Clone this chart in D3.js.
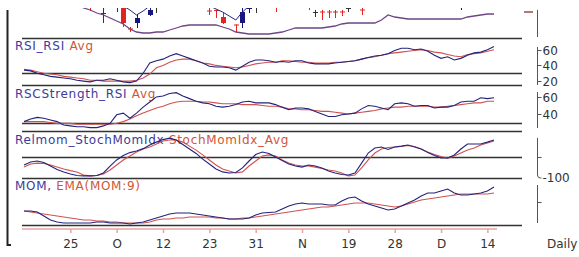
<!DOCTYPE html>
<html>
<head>
<meta charset="utf-8">
<script src="https://cdn.jsdelivr.net/npm/d3@7"></script>
<style>
  html, body { margin: 0; padding: 0; background: #fff; }
  svg { display: block; font-family: "DejaVu Sans", Verdana, sans-serif; }
</style>
</head>
<body>
<div id="chart"></div>
<script>
// Stacked indicator panels: price strip, RSI, RSC strength, SMI, momentum

// x axis (one slot per trading day)
const tickIdx = [7, 14, 21, 28, 35, 42, 49, 56, 63, 70];
const tickLabels = ['25', 'O', '12', '23', '31', 'N', '19', '28', 'D', '14'];

// price strip (top is cut off in the picture)
const priceMA = [148,146,144,142,141,140,138,136,133,130, 128,125,123,120,117,114,109,106,105,105,
  106,106,108,110,112,113,113,113,113,113, 111,109,106,105,104,104,104,104,105,106,
  108,110,110,110,110,110,111,112,114,115, 115,115,115,115,118,123,121,120,119,119,
  119,119,119,119,119,119,119,121,122,123, 124,124];
const priceUpper = [140,140,140,140,140,140,140,140,140,140, 140,140,140,140,140,132,128,123,127,132,
  140,140,140,140,140,140,140,140,132,129, 126,122,118,126,132,140,140,140,140,140,
  140,140,140,140,140,140,140,140,140,140, 140,140,140,140,140,140,140,140,140,140,
  140,140,140,140,140,140,140,140,140,140, 140,140];
const candleIdx   = [10, 12, 14, 15, 16, 17, 19, 20, 28, 29, 30, 32, 33, 34, 35, 38, 43, 44, 45, 46, 47, 48, 49, 51, 66];
const candleOpen  = [139,125,138,131,109.5,115,123,135,127.5,128,121,113.5,115,129.5,133,134,134,126,126.5,126.5,126.5,126.5,130,128.5,131];
const candleClose = [134,125,138,115,109,120,128,135,127,127.5,115,113,126,130,133,132,132,126,126,126,126,126,130,128,133];
const candleHigh  = [142,140,142,135,111,124,135,140,135,128,125,113.5,130,131,136,136,136,128,128,128,128,128,133,131,135];
const candleLow   = [127,115,126,111,106,110,122,125,123,120,114,106,110,125,125,126,128,121,118,120,120,122,126,123,128];
const lastClose = 126;

// RSI_RSI and Avg
const rsi = [34,33,30,28,26,25,24,23,21,20, 19,21,21,23,21,19,18,20,30,43, 46,48,52,55,52,49,46,43,39,38,
  38,37,34,39,44,47,47,46,44,45, 44,46,46,43,42,42,42,43,44,45, 46,48,50,52,53,55,59,62,62,60,
  61,58,53,49,51,47,49,53,56,57, 60,64];
const rsiAvg = [35,34,32,30,29,28,26,25,24,23, 21,21,20,20,20,20,20,21,24,29, 37,40,44,47,48,48,46,43,42,40,
  39,38,37,38,40,42,43,44,44,46, 46,45,44,44,43,43,43,44,44,45, 46,48,50,51,53,55,56,57,58,59,
  60,59,57,56,54,52,51,54,55,56, 58,60];
const rsiTicks = [60, 40, 20];
const rsiLevel = 30;

// RSCStrength_RSI and Avg
const rsc = [31,34,36,35,33,31,27,26,25,25, 24,24,26,29,39,41,35,41,48,54, 60,61,64,65,61,58,55,53,52,49,
  48,49,51,54,55,53,53,53,51,48, 45,47,47,46,43,40,37,37,39,40, 41,46,50,49,47,45,52,53,52,49,
  50,50,47,48,48,50,54,55,55,59, 58,59];
const rscAvg = [31,31,31,31,30,29,29,29,28,28, 28,28,28,28,29,31,34,38,41,44, 47,49,52,54,55,55,55,54,54,53,
  52,52,52,51,51,51,50,49,49,48, 46,46,45,45,44,43,43,42,41,40, 41,42,43,44,46,47,48,48,49,49,
  49,49,48,48,49,50,51,52,53,53, 55,55];
const rscTicks = [60, 40];
const rscLevel = 29;

// Relmom_StochMomIdx and StochMomIdx_Avg
const smi = [-38,-24,-19,-26,-43,-60,-71,-81,-88,-90, -90,-88,-76,-43,-14,7,21,29,40,57,
  71,83,90,81,60,38,17,-10,-33,-57, -71,-76,-74,-52,-19,12,24,17,0,-17,
  -33,-43,-48,-38,-43,-52,-67,-76,-83,-86, -76,-29,19,43,48,36,48,52,57,48,
  38,21,7,-5,-5,10,38,62,62,62, 71,81];
const smiAvg = [-48,-33,-29,-31,-38,-48,-57,-65,-71,-86, -90,-88,-81,-62,-38,-14,5,24,38,48,
  62,76,81,81,71,52,33,10,-14,-38, -57,-67,-76,-71,-43,-19,5,10,5,-14,
  -29,-38,-43,-43,-48,-55,-62,-67,-76,-90, -86,-52,-14,19,38,45,48,50,55,50,
  38,24,12,2,-5,5,19,33,43,57, 67,76];
const smiTicks = [0, -100];
const smiTickLabels = ['', '-100'];
const smiLevel = 0;

// MOM and EMA(MOM:9)
const mom = [-1.8,-1.8,-2.0,-2.8,-3.6,-4.0,-4.2,-4.2,-4.2,-4.2, -4.2,-4.0,-4.0,-4.2,-4.2,-4.2,-4.4,-4.2,-4.0,-3.6,
  -3.2,-2.8,-2.4,-2.2,-2.2,-2.2,-2.4,-2.6,-2.8,-3.0, -3.2,-3.4,-3.4,-3.4,-3.2,-2.6,-2.2,-2.1,-2.0,-1.4,
  -0.8,-0.4,-0.2,-0.4,-0.4,-0.4,-0.6,-0.6,0.2,0.8, 1.0,0.2,-0.4,-0.8,-1.2,-1.6,-1.4,-0.8,-0.2,0.4,
  1.2,1.8,1.8,2.2,2.6,1.8,1.4,1.4,1.6,1.8, 2.2,3.0];
const momEma = [-1.8,-2.0,-2.2,-2.4,-2.6,-2.8,-3.0,-3.2,-3.4,-3.6, -3.6,-3.8,-3.8,-4.0,-4.0,-4.2,-4.2,-4.2,-4.2,-4.0,
  -3.6,-3.4,-3.4,-3.2,-3.2,-3.0,-3.0,-3.0,-3.0,-3.2, -3.2,-3.4,-3.4,-3.2,-3.2,-3.0,-2.8,-2.6,-2.4,-2.2,
  -2.0,-1.8,-1.6,-1.4,-1.2,-1.0,-1.0,-0.8,-0.6,-0.4, -0.2,-0.2,-0.2,-0.4,-0.6,-0.8,-1.0,-0.8,-0.4,0,
  0.4,0.6,0.8,1.0,1.2,1.4,1.6,1.6,1.6,1.6, 1.6,1.8];
const momTicks = [0];

// colours
const NAVY = '#23237e';
const RED = '#d0524e';
const LABEL_NAVY = '#3b3b9c';
const LABEL_RED = '#cf5636';
const PURPLE = '#6e4585';

const W = 579, H = 257;
const plotL = 22, plotR = 522, axisX = 537.5;

const x = d3.scaleLinear().domain([0, rsi.length - 1]).range([24, 494]);

const yPrice = d3.scaleLinear().domain([100, 138]).range([38, 0]);
const yRsi = d3.scaleLinear().domain([15, 75]).range([85, 38]);
const yRsc = d3.scaleLinear().domain([20, 74]).range([131, 85]);
const ySmi = d3.scaleLinear().domain([-100, 124]).range([178, 131]);
const yMom = d3.scaleLinear().domain([-4.6, 4.8]).range([225, 178]);

const svg = d3.select('#chart').append('svg')
    .attr('width', W)
    .attr('height', H);

// left frame
svg.append('line')
    .attr('x1', 7.5).attr('x2', 7.5).attr('y1', 10).attr('y2', 246)
    .attr('stroke', '#222').attr('stroke-width', 2);
svg.append('line')
    .attr('x1', 7).attr('x2', 11).attr('y1', 245).attr('y2', 245)
    .attr('stroke', '#222').attr('stroke-width', 2);

// panel bottoms and level lines
const borders = [yPrice, yRsi, yRsc, ySmi, yMom].map(s => s.range()[0]);
const levels = [yRsi(rsiLevel), yRsc(rscLevel), ySmi(smiLevel)];
svg.selectAll('.hline')
    .data(borders.concat(levels))
    .enter().append('line')
    .attr('class', 'hline')
    .attr('x1', plotL).attr('x2', plotR)
    .attr('y1', d => Math.round(d) + 0.5).attr('y2', d => Math.round(d) + 0.5)
    .attr('stroke', '#333')
    .attr('stroke-width', 1.5);

// panel titles (drawn under the lines)
function panelLabel(y, parts) {
    const t = svg.append('text')
        .attr('x', 15).attr('y', y)
        .style('font-size', '12px')
        .style('letter-spacing', '0.7px');
    parts.forEach(([s, c]) => t.append('tspan').attr('fill', c).text(s));
}
panelLabel(50, [['RSI_RSI ', LABEL_NAVY], ['Avg', LABEL_RED]]);
panelLabel(98, [['RSCStrength_RSI ', LABEL_NAVY], ['Avg', LABEL_RED]]);
panelLabel(144, [['Relmom_StochMomIdx ', LABEL_NAVY], ['StochMomIdx_Avg', LABEL_RED]]);
panelLabel(190, [['MOM, ', LABEL_NAVY], ['EMA(MOM:9)', LABEL_RED]]);

// price strip, clipped like the original screenshot
svg.append('clipPath').attr('id', 'price-clip')
    .append('rect')
    .attr('x', plotL).attr('y', 8)
    .attr('width', plotR - plotL).attr('height', yPrice.range()[0] - 8);

const priceG = svg.append('g').attr('clip-path', 'url(#price-clip)');

const candles = candleIdx.map((i, k) => ({
    i, o: candleOpen[k], c: candleClose[k], h: candleHigh[k], l: candleLow[k]
}));
const candleColor = d => d.c > d.o ? '#16167e' : (d.c < d.o ? '#e3231f' : '#333');

const cg = priceG.selectAll('.candle')
    .data(candles)
    .enter().append('g')
    .attr('class', 'candle');
cg.append('line')
    .attr('x1', d => Math.round(x(d.i)) + 0.5).attr('x2', d => Math.round(x(d.i)) + 0.5)
    .attr('y1', d => yPrice(d.h)).attr('y2', d => yPrice(d.l))
    .attr('stroke', candleColor).attr('stroke-width', 1);
cg.append('rect')
    .attr('x', d => Math.round(x(d.i)) - 2)
    .attr('width', 5)
    .attr('y', d => yPrice(Math.max(d.o, d.c)))
    .attr('height', d => Math.max(1, Math.abs(yPrice(d.o) - yPrice(d.c))))
    .attr('fill', candleColor);

const lineOf = ys => d3.line().x((d, i) => x(i)).y(d => ys(d));

priceG.append('path').datum(priceUpper)
    .attr('fill', 'none').attr('stroke', NAVY).attr('stroke-width', 1)
    .attr('d', lineOf(yPrice));
priceG.append('path').datum(priceMA)
    .attr('fill', 'none').attr('stroke', PURPLE).attr('stroke-width', 1.3)
    .attr('d', lineOf(yPrice));

// last close marker
svg.append('line')
    .attr('x1', 524).attr('x2', 533)
    .attr('y1', yPrice(lastClose)).attr('y2', yPrice(lastClose))
    .attr('stroke', '#9a4a4a').attr('stroke-width', 1.5);

// indicator lines
[[rsiAvg, rsi, yRsi], [rscAvg, rsc, yRsc], [smiAvg, smi, ySmi], [momEma, mom, yMom]]
    .forEach(([avg, main, ys]) => {
        svg.append('path').datum(avg)
            .attr('fill', 'none').attr('stroke', RED).attr('stroke-width', 1.1)
            .attr('d', lineOf(ys));
        svg.append('path').datum(main)
            .attr('fill', 'none').attr('stroke', NAVY).attr('stroke-width', 1.1)
            .attr('d', lineOf(ys));
    });

// right-hand axes
function rightAxis(y0, y1, ticks, labels, ys) {
    svg.append('line')
        .attr('x1', axisX).attr('x2', axisX).attr('y1', y0).attr('y2', y1)
        .attr('stroke', '#555').attr('stroke-width', 1);
    ticks.forEach((t, k) => {
        const y = Math.round(ys(t)) + 0.5;
        svg.append('line')
            .attr('x1', axisX).attr('x2', axisX + 4).attr('y1', y).attr('y2', y)
            .attr('stroke', '#555');
        if (labels[k]) {
            svg.append('text')
                .attr('x', axisX + 5).attr('y', y).attr('dy', '0.36em')
                .attr('fill', '#333').style('font-size', '12px')
                .text(labels[k]);
        }
    });
}
rightAxis(10, 37, [], [], yPrice);
rightAxis(47, 85, rsiTicks, rsiTicks.map(String), yRsi);
rightAxis(92, 128, rscTicks, rscTicks.map(String), yRsc);
rightAxis(138, 175, [smiTicks[0]], [smiTickLabels[0]], ySmi);
// SMI axis bends into its -100 tick
svg.append('path')
    .attr('d', `M${axisX},175 Q${axisX},${ySmi(-100)} ${axisX + 3},${ySmi(-100)} H${axisX + 4}`)
    .attr('fill', 'none').attr('stroke', '#555');
svg.append('text')
    .attr('x', axisX + 5).attr('y', ySmi(-100)).attr('dy', '0.36em')
    .attr('fill', '#333').style('font-size', '12px')
    .text(smiTickLabels[1]);
rightAxis(185, 223, momTicks, [''], yMom);

// bottom date axis
const axisY = 229;
svg.append('line')
    .attr('x1', plotL).attr('x2', x.range()[1] + 3)
    .attr('y1', axisY).attr('y2', axisY)
    .attr('stroke', '#e6a3a3').attr('stroke-width', 1.5);

const xAxis = d3.axisBottom(x)
    .tickValues(tickIdx)
    .tickFormat((d, k) => tickLabels[k])
    .tickSize(4)
    .tickSizeOuter(0)
    .tickPadding(6);

const xg = svg.append('g')
    .attr('transform', `translate(0,${axisY})`)
    .call(xAxis);
xg.select('.domain').remove();
xg.selectAll('.tick line').attr('stroke', '#e6a3a3').attr('stroke-width', 1.5);
xg.selectAll('.tick text')
    .attr('fill', '#333')
    .style('font-size', '12px')
    .style('font-family', '"DejaVu Sans", Verdana, sans-serif');

svg.append('text')
    .attr('x', 547).attr('y', 248)
    .attr('fill', '#333').style('font-size', '12px')
    .text('Daily');
</script>
</body>
</html>
